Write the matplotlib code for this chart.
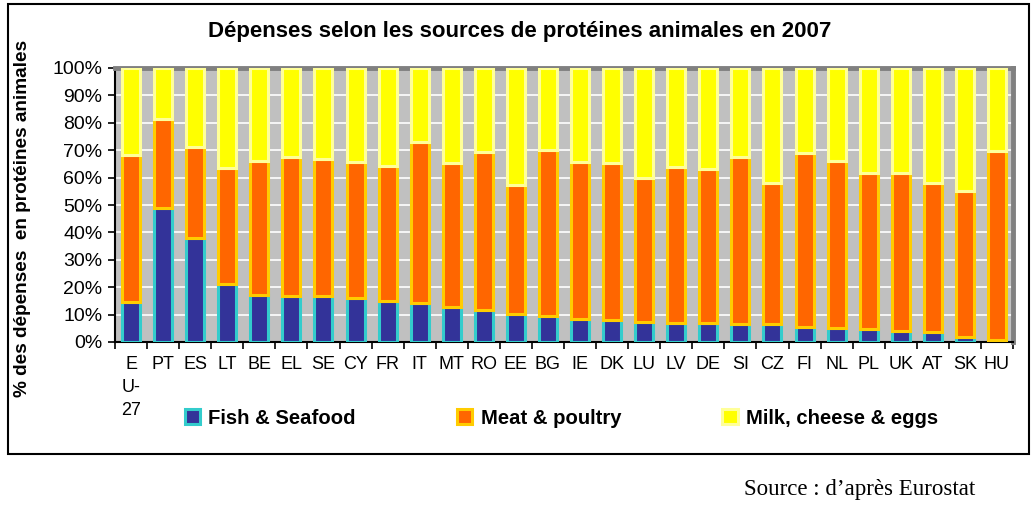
import numpy as np
import matplotlib
matplotlib.use("Agg")
import matplotlib.pyplot as plt
from matplotlib.patches import Rectangle, Patch

# Data (% of spending on animal proteins, 2007)
countries = ["E\nU-\n27", "PT", "ES", "LT", "BE", "EL", "SE", "CY", "FR", "IT",
             "MT", "RO", "EE", "BG", "IE", "DK", "LU", "LV", "DE", "SI",
             "CZ", "FI", "NL", "PL", "UK", "AT", "SK", "HU"]
fish = [14.6, 48.8, 38.0, 21.1, 17.3, 16.8, 16.8, 15.9, 15.0, 14.2,
        12.8, 11.6, 10.4, 9.4, 8.5, 7.9, 7.3, 7.0, 7.0, 6.7,
        6.4, 5.5, 5.1, 4.9, 3.9, 3.7, 1.8, 0.9]
fish_meat = [68.3, 81.3, 71.3, 63.4, 66.1, 67.7, 66.8, 65.8, 64.4, 72.9,
             65.2, 69.5, 57.3, 70.1, 65.8, 65.2, 59.8, 64.0, 63.2, 67.7,
             57.9, 68.9, 66.1, 61.8, 61.8, 58.2, 55.1, 69.8]
meat = [a - b for a, b in zip(fish_meat, fish)]
milk = [100 - a for a in fish_meat]

series = ["Fish & Seafood", "Meat & poultry", "Milk, cheese & eggs"]
faces = ["#333399", "#FF6600", "#FFFF00"]
edges = ["#33CCCC", "#FFCC00", "#FFFF99"]

plt.rcParams['font.family'] = ['Liberation Sans', 'DejaVu Sans']

W, H = 1036, 514
fig = plt.figure(figsize=(W / 100, H / 100), dpi=100)

# outer frame
fig.patches.append(Rectangle((8 / W, 1 - 454 / H), 1021 / W, 450 / H,
                             transform=fig.transFigure, fill=False,
                             edgecolor="black", linewidth=1.5))

ax = fig.add_axes([115 / W, 1 - 342 / H, 898 / W, 274 / H])
ax.set_facecolor("#C0C0C0")

x = np.arange(len(countries))
width = 0.56
bottom = np.zeros(len(countries))
for vals, fc, ec in zip([fish, meat, milk], faces, edges):
    ax.bar(x, vals, width, bottom=bottom, color=fc, edgecolor=ec,
           linewidth=2.2, zorder=3)
    bottom += np.array(vals)

ax.set_xlim(-0.5, len(countries) - 0.5)
ax.set_ylim(0, 100)
ax.set_yticks(np.arange(0, 101, 10))
ax.set_yticklabels([f"{v}%" for v in range(0, 101, 10)], fontsize=14)
ax.yaxis.grid(True, color="white", linewidth=1.2, zorder=0)
ax.set_axisbelow(True)

ax.set_xticks(x)
ax.set_xticklabels(countries, fontsize=13, linespacing=1.45, va="top")
ax.set_xticks(np.arange(-0.5, len(countries)), minor=True)
ax.tick_params(axis="x", which="major", length=0, pad=10)
ax.tick_params(axis="x", which="minor", length=5, width=1.2, direction="out")
ax.tick_params(axis="y", length=5, width=1.2, direction="out", pad=4)

for side in ["left", "bottom"]:
    ax.spines[side].set_color("black")
    ax.spines[side].set_linewidth(1.5)
for side in ["top", "right"]:
    ax.spines[side].set_color("#808080")
    ax.spines[side].set_linewidth(3.5)

ax.set_ylabel("% des dépenses  en protéines animales", fontsize=13.7,
              fontweight="bold")
ax.yaxis.set_label_coords(-0.094, 0.45)

fig.text(520 / W, 1 - 32 / H,
         "Dépenses selon les sources de protéines animales en 2007",
         ha="center", va="center", fontsize=16, fontweight="bold")

handles = [Patch(facecolor=fc, edgecolor=ec, linewidth=2.2)
           for fc, ec in zip(faces, edges)]
fig.legend(handles, series, loc="center left",
           bbox_to_anchor=(185 / W, 1 - 418 / H), ncol=3, frameon=False,
           prop={"weight": "bold", "size": 14.6}, handlelength=0.75,
           handleheight=0.75, handletextpad=0.4, columnspacing=5.0,
           borderaxespad=0, borderpad=0)

fig.text(975 / W, 1 - 490 / H, "Source : d\u2019après Eurostat",
         ha="right", va="center", fontsize=16.5, family="Liberation Serif")

fig.savefig("out.png", dpi=100)
